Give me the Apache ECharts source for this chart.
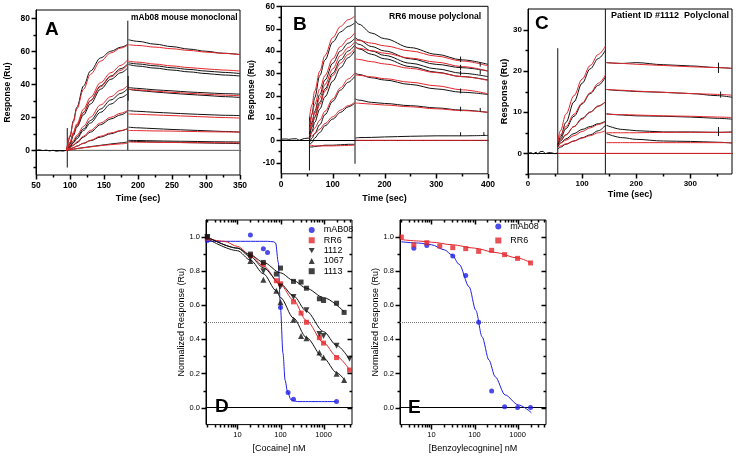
<!DOCTYPE html>
<html><head><meta charset="utf-8">
<script src="https://cdn.jsdelivr.net/npm/echarts@6/dist/echarts.min.js"></script>
<style>html,body{margin:0;padding:0;background:#fff}#c{width:736px;height:457px}</style>
</head><body><div id="c"></div>
<script>
// ---------------- Panel A : mAb08 mouse monoclonal ----------------
const aBaseT = [50,55,60,65,70,75,80,85,90,95];
const aBaseV = [0,0.3,-0.2,0.1,-0.4,0,-0.6,-0.3,-0.5,0];
const aAssocT = [95,100,105,110,120,130,145,160,175,184];
const aBlackAssoc = [
  [0,8,18,26,39,48,56,60,62.5,64],
  [0,4,10,15,23,30,39,45,49.5,52],
  [0,3.5,9,14,21.5,28,37,43,47,49.5],
  [0,2.5,5,8,13,18,25,30.5,34.5,37],
  [0,2,4.5,7,12,16.5,23,28,32,34],
  [0,1.5,3,4.5,8,11,15.5,19,21.5,23.5],
  [0,0.8,1.5,2.5,4.2,5.8,8,10,11.8,13],
  [0,0.3,0.6,1,1.6,2.2,3,3.8,4.5,5]
];
const aRedAssoc = [
  [0,9,17,25,37,46,54,59,62,63.5],
  [0,5,11,16,25,32,41,47,51.5,54.5],
  [0,4.5,10,15,23,30,38.5,44.5,48.5,51.5],
  [0,3,6,9,14.5,20,27.5,32.5,36.5,39],
  [0,1.5,3.2,5,8.5,12,16.5,20,22.5,24],
  [0,0.8,1.6,2.5,4.3,6,8.5,10.5,12,13],
  [0,0.3,0.6,1,1.5,2,2.8,3.4,3.9,4.2]
];
const aDissT = [186,200,225,250,275,300,325,350];
const aBlackDiss = [
  [67,66,64.3,62.8,61.3,60,58.8,58],
  [53,52.3,51.2,50,49,48,47.2,46.5],
  [52,51,49.8,48.6,47.5,46.5,45.6,45],
  [38,37.5,36.6,36,35.3,34.8,34.3,34],
  [37,36.2,35.3,34.5,33.8,33.2,32.5,32],
  [24,23.6,23,22.5,22,21.6,21.2,21],
  [14,13.6,13.1,12.6,12.2,11.8,11.4,11],
  [6,5.9,5.7,5.5,5.4,5.2,5.1,5],
  [5.5,5.3,5,4.8,4.6,4.4,4.2,4]
];
const aRedDiss = [
  [64,63.5,62.5,61.5,60.5,59.5,58.7,58],
  [54,53.4,52.2,51.1,50.1,49.3,48.6,48],
  [37,36.6,35.8,35.1,34.5,33.9,33.4,33],
  [22,21.8,21.4,21,20.6,20.2,19.8,19.5],
  [12,11.9,11.7,11.6,11.4,11.2,11.1,11],
  [5,4.9,4.8,4.7,4.6,4.6,4.5,4.5]
];
const aZero = [[95,0],[350,0]];
const aSpikes = [[[96,-10.5],[96,13.5]], [[185,0],[185,78.5]], [[185.5,30],[185.5,45]]];

// ---------------- Panel B : RR6 mouse polyclonal ----------------
const bBaseT = [0,10,15,18,20,30,35,38,45,54];
const bBaseV = [0.5,0.6,0.4,1.2,0.6,0.7,0,0.6,0.8,1];
const bAssocT = [55,60,65,75,85,100,115,130,142];
const bBlackAssoc = [
  [3,12,19,29,36,44,48.5,51,52.5],
  [2,8,13,20.5,27,34.5,40,43.5,45.5],
  [1,6,10.5,17,23,30,36,40,42.5],
  [0,4,8,14,19.5,26.5,32.5,37,40],
  [-1,1,3,7,11.5,17.5,22.5,26,28.5],
  [-2,-1,1,3.5,6.5,9.5,12.5,15,16.5],
  [-3,-3,-2.8,-2.5,-2.2,-2.2,-2,-1.8,-1.8]
];
const bRedAssoc = [
  [10,16,22,31,38,46,51,54,55.5],
  [7,11.5,16,23,29,36.5,42,45.5,48],
  [5,8.5,12,19,25,32,38,41.5,44],
  [4,7,10,16,22,29,34.5,38.5,41],
  [2,3.5,5.5,9,13,18.5,23.5,27.5,30],
  [1,2,3,5,7.5,10.5,13.5,15.5,17],
  [-2,-2.3,-2.5,-2.5,-2.5,-2.5,-2.4,-2.3,-2.2]
];
const bDissT = [144,150,175,200,250,300,350,400];
const bBlackDiss = [
  [53.5,52,48,45.5,41.5,38.5,36,34],
  [46,45,42,40,36.5,34,32.5,31],
  [44,43,40,38,34.5,32,30,28.5],
  [42,41,38.5,36.5,33,30.5,28.5,27],
  [30,29.5,28,27,25,23,21.5,20.5],
  [18.5,18,17,16.5,15.5,14.5,13.5,12.5],
  [1,1.2,1.3,1.5,1.8,2,2,2.2]
];
const bRedDiss = [
  [45,44.7,43.5,42.3,40,37.7,35.5,33.3],
  [41.5,41.2,40.1,39,36.8,35,33,31],
  [36.5,36.2,35.2,34.2,32.2,30.3,28.5,26.8],
  [29.3,29.1,28.4,27.6,26,24.4,22.6,20.8],
  [16.7,16.6,16.2,15.8,15,14.1,13.3,12.5],
  [0,0,0,0,0,0,0,0]
];
const bSpikes = [[[55,-13.5],[55,10.5]], [[143,-10.5],[143,60]]];
const bGlitches = [[[347,35],[347,37.5]], [[347,31.5],[347,33.8]], [[347,29],[347,31.2]], [[347,21],[347,23.2]],
  [[347,13],[347,15]], [[347,1.9],[347,3.6]], [[385,33],[385,35]], [[385,29.5],[385,31.5]], [[385,12.8],[385,14.5]], [[392,2],[392,3.6]]];

// ---------------- Panel C : Patient ID #1112 ----------------
const cBaseT = [0,5,10,15,18,22,25,28,32,38,45,50,54];
const cBaseV = [0,0.2,-0.1,0.3,-0.2,0.4,0,0.5,-0.1,0.2,0.1,-0.1,0.1];
const cAssocT = [55,60,70,85,100,115,130,143];
const cBlackAssoc = [
  [2,4,7.5,12.5,17,20.5,23,25],
  [2,3.5,6,9,12,14.5,16.5,18.5],
  [2,3,4.5,6.5,8.5,10,11.5,12.5],
  [1.5,2.5,3.5,4.8,5.8,6.5,7.2,7.8],
  [1,1.5,2.2,3,3.8,4.5,5.5,6.8]
];
const cRedAssoc = [
  [3,5.5,9.5,14,18,21.3,24,26],
  [3,4.5,6.5,9.5,12.2,14.7,17,19],
  [2.5,3.3,4.5,6.5,8.3,10,11.4,12.5],
  [2,2.5,3.2,4.3,5.3,6.2,7,7.7],
  [1.5,1.8,2.3,3,3.7,4.3,5,5.5]
];
const cDissT = [145,175,200,250,300,350,377];
const cBlackDiss = [
  [22,21.8,22,21.5,21.2,20.8,20.6],
  [15.5,15.2,15,14.8,14.5,14,13.6],
  [9.6,9.3,9.1,9,8.8,8.5,8.3],
  [6.8,5.8,5.5,5.2,5.2,5.1,5.2],
  [4.8,3.8,3.4,3,2.9,2.7,2.5]
];
const cRedDiss = [
  [22,21.8,21.6,21.3,21,20.8,20.6],
  [15.5,15.3,15.1,14.8,14.5,14.3,14.1],
  [9.5,9.4,9.3,9.1,9,8.8,8.7],
  [5,5,5,5.1,5.1,5.1,5.1],
  [2.6,2.6,2.6,2.6,2.6,2.6,2.6]
];
const cRedZero = [[55,0],[377,0]];
const cSpikes = [[[55,-5],[55,25.5]], [[143,-5],[143,35]]];
const cGlitches = [[[352,19.5],[352,22]], [[352,4.2],[352,6.4]], [[356,13.5],[356,15]]];

// ---------------- Panel D : cocaine ----------------
const dMab08X = [2,20,40,50,100,150,200,2000];
const dMab08Y = [0.98,1.012,0.932,0.91,0.587,0.088,0.049,0.035];
const dRR6X = [2,20,40,80,100,200,300,400,800,1000,2000,4000];
const dRR6Y = [0.994,0.893,0.84,0.744,0.726,0.62,0.554,0.50,0.41,0.378,0.293,0.22];
const d1112X = [2,20,40,100,200,400,800,1000,2000,4000];
const d1112Y = [1.0,0.875,0.80,0.71,0.648,0.571,0.432,0.42,0.362,0.286];
const d1067X = [20,40,80,100,200,300,400,800,1000,2000,3000];
const d1067Y = [0.86,0.75,0.685,0.617,0.515,0.42,0.407,0.323,0.293,0.198,0.162];
const d1113X = [2,20,40,80,100,200,300,400,800,1000,2000,3000];
const d1113Y = [1.0,0.90,0.851,0.783,0.818,0.74,0.736,0.70,0.638,0.628,0.612,0.558];
const dFitMab08X = [2,50,70,77,89,100,114,128,145,175,250,2000];
const dFitMab08Y = [0.975,0.975,0.972,0.965,0.85,0.58,0.32,0.16,0.094,0.045,0.035,0.035];
const dFitRR6X = [2,5,10,20,40,100,200,400,1000,2000,4000];
const dFitRR6Y = [0.99,0.975,0.945,0.895,0.83,0.72,0.63,0.51,0.38,0.30,0.222];
const dFit1112X = [2,10,20,40,100,200,400,1000,2000,4000];
const dFit1112Y = [1.0,0.935,0.885,0.82,0.725,0.655,0.565,0.445,0.365,0.283];
const dFit1067X = [2,10,20,40,80,100,200,400,1000,2000,3000];
const dFit1067Y = [0.99,0.92,0.865,0.785,0.685,0.645,0.525,0.41,0.29,0.205,0.165];
const dFit1113X = [2,10,20,40,100,200,400,1000,3000];
const dFit1113Y = [1.0,0.935,0.895,0.852,0.79,0.745,0.70,0.645,0.562];

// ---------------- Panel E : benzoylecgonine ----------------
const eMab08X = [3.9,7.8,31.25,62.5,125,250,500,1000,2000];
const eMab08Y = [0.935,0.95,0.889,0.774,0.501,0.097,0.005,0.0,0.0];
const eRR6X = [2,3.9,7.8,15.6,31.25,62.5,125,250,500,1000,2000];
const eRR6Y = [1.0,0.954,0.967,0.947,0.938,0.932,0.916,0.922,0.897,0.875,0.848];
const eFitMab08X = [2,5,10,20,30,44,75,107,150,216,303,513,1035,2090];
const eFitMab08Y = [0.972,0.965,0.955,0.925,0.895,0.84,0.708,0.571,0.415,0.279,0.18,0.074,0.016,-0.03];
const eFitRR6X = [2,5,10,30,100,300,1000,2000];
const eFitRR6Y = [0.985,0.977,0.97,0.955,0.935,0.91,0.877,0.85];

// ---------------- tick values ----------------
const aXMaj=[50,100,150,200,250,300,350], aXMin=[75,125,175,225,275,325], aYMaj=[0,20,40,60,80], aYMin=[-10,10,30,50,70];
const bXMaj=[0,100,200,300,400], bXMin=[50,150,250,350], bYMaj=[-10,0,10,20,30,40,50,60], bYMin=[-5,5,15,25,35,45,55];
const cXMaj=[0,100,200,300], cXMin=[50,150,250,350], cYMaj=[0,10,20,30], cYMin=[-5,5,15,25];
const logMaj=[10,100,1000];
const logMin=[2,3,4,5,6,7,8,9,20,30,40,50,60,70,80,90,200,300,400,500,600,700,800,900,2000,3000,4000];
const nYMaj=[0,0.2,0.4,0.6,0.8,1.0], nYMin=[0.1,0.3,0.5,0.7,0.9];

// ---------------- styling / helpers ----------------
const FONT = '"Liberation Sans", Arial, Helvetica, sans-serif';
const RED = '#e3262b', BLUE = '#1f1fe6', BLK = '#111';
const TRI_DOWN = 'path://M0,0L10,0L5,9Z';
const series = [];
function zip(xs, ys){ return xs.map((x,i)=>[x, ys[i]]); }
function line(gi, data, color, w, smooth, z){
  series.push({type:'line', xAxisIndex:gi, yAxisIndex:gi, data, symbol:'none', showSymbol:false,
    smooth: smooth||0, smoothMonotone:'x', lineStyle:{color, width:w||1}, itemStyle:{color},
    silent:true, animation:false, z: z||2});
}
function scatter(gi, name, data, color, symbol, size){
  series.push({type:'scatter', name, xAxisIndex:gi, yAxisIndex:gi, data, symbol, symbolSize:size||5,
    itemStyle:{color}, silent:true, animation:false, z:5});
}

// Panel A series
line(0, zip(aBaseT, aBaseV), BLK, 1);
line(0, aZero, '#9a9a9a', 1);
aBlackAssoc.forEach(v=>line(0, zip(aAssocT, v), BLK, 1, 0.35));
aBlackDiss.forEach(v=>line(0, zip(aDissT, v), BLK, 1, 0.35));
aRedAssoc.forEach(v=>line(0, zip(aAssocT, v), RED, 1, 0.35, 3));
aRedDiss.forEach(v=>line(0, zip(aDissT, v), RED, 1, 0.35, 3));
aSpikes.forEach(s=>line(0, s, BLK, 1));
// Panel B series
line(1, zip(bBaseT, bBaseV), BLK, 1);
bBlackAssoc.forEach(v=>line(1, zip(bAssocT, v), BLK, 1, 0.35));
bBlackDiss.forEach(v=>line(1, zip(bDissT, v), BLK, 1, 0.35));
bRedAssoc.forEach(v=>line(1, zip(bAssocT, v), RED, 1, 0.35, 3));
bRedDiss.forEach(v=>line(1, zip(bDissT, v), RED, 1, 0.35, 3));
bSpikes.forEach(s=>line(1, s, BLK, 1));
bGlitches.forEach(s=>line(1, s, BLK, 1, 0, 4));
// Panel C series
line(2, zip(cBaseT, cBaseV), BLK, 1);
cBlackAssoc.forEach(v=>line(2, zip(cAssocT, v), BLK, 1, 0.35));
cBlackDiss.forEach(v=>line(2, zip(cDissT, v), BLK, 1, 0.35));
cRedAssoc.forEach(v=>line(2, zip(cAssocT, v), RED, 1, 0.35, 3));
cRedDiss.forEach(v=>line(2, zip(cDissT, v), RED, 1, 0.35, 3));
line(2, cRedZero, RED, 1, 0, 3);
cSpikes.forEach(s=>line(2, s, BLK, 1));
cGlitches.forEach(s=>line(2, s, BLK, 1, 0, 4));
// Panel D series
const half = {silent:true, symbol:['none','none'], label:{show:false}, lineStyle:{type:'dotted', color:'#777', width:1}, data:[{yAxis:0.5}]};
line(3, zip(dFitMab08X, dFitMab08Y), BLUE, 1, 0.3);
series[series.length-1].markLine = half;
line(3, zip(dFitRR6X, dFitRR6Y), RED, 1, 0.3);
line(3, zip(dFit1112X, dFit1112Y), BLK, 1, 0.3);
line(3, zip(dFit1067X, dFit1067Y), BLK, 1, 0.3);
line(3, zip(dFit1113X, dFit1113Y), BLK, 1, 0.3);
scatter(3, 'mAB08', zip(dMab08X, dMab08Y), BLUE, 'circle', 5);
scatter(3, 'RR6', zip(dRR6X, dRR6Y), RED, 'rect', 5);
scatter(3, '1112', zip(d1112X, d1112Y), BLK, TRI_DOWN, 6);
scatter(3, '1067', zip(d1067X, d1067Y), BLK, 'triangle', 6);
scatter(3, '1113', zip(d1113X, d1113Y), BLK, 'rect', 5);
// Panel E series
line(4, zip(eFitMab08X, eFitMab08Y), BLUE, 1, 0.3);
series[series.length-1].markLine = half;
line(4, zip(eFitRR6X, eFitRR6Y), RED, 1, 0.3);
scatter(4, 'mAb08', zip(eMab08X, eMab08Y), BLUE, 'circle', 5);
scatter(4, 'RR6', zip(eRR6X, eRR6Y), RED, 'rect', 5);

// ---------------- axes ----------------
const grids = [
  {left:36, top:10, width:204, height:165},
  {left:281, top:6.3, width:207, height:167.5},
  {left:528, top:9, width:204, height:165},
  {left:206, top:220, width:146, height:204.6},
  {left:400, top:220, width:146, height:204.6}
].map(g=>Object.assign({show:true, borderColor:'#000', borderWidth:1, containLabel:false}, g));

function sgAxisLabel(fs, margin, fmt){
  return {color:'#000', fontSize:fs, fontWeight:'bold', fontFamily:FONT, margin, formatter: fmt};
}
const nameBold = fs => ({color:'#000', fontSize:fs, fontWeight:'bold', fontFamily:FONT});
const nameReg = fs => ({color:'#000', fontSize:fs, fontFamily:FONT});
const common = {axisLine:{show:true, lineStyle:{color:'#000', width:1}}, axisTick:{show:false}, minorTick:{show:false}, splitLine:{show:false}, nameLocation:'middle'};
const normFmt = v => { const k=Math.round(v*10); return (k>=0 && k<=10 && k%2===0) ? (k/10).toFixed(1) : ''; };

const xAxis = [
  Object.assign({}, common, {gridIndex:0, type:'value', min:50, max:350, interval:50, axisLabel:sgAxisLabel(8.5,6, v=>String(v)), name:'Time (sec)', nameGap:19, nameTextStyle:nameBold(9)}),
  Object.assign({}, common, {gridIndex:1, type:'value', min:0, max:400, interval:100, axisLabel:sgAxisLabel(8.5,6, v=>String(v)), name:'Time (sec)', nameGap:20, nameTextStyle:nameBold(9)}),
  Object.assign({}, common, {gridIndex:2, type:'value', min:0, max:377, interval:100, axisLabel:sgAxisLabel(8,6, v=>(v%100===0?String(v):'')), name:'Time (sec)', nameGap:16, nameTextStyle:nameBold(9)}),
  Object.assign({}, common, {gridIndex:3, type:'log', logBase:10, min:1.862, max:4571, axisLabel:{show:false}, name:'[Cocaine] nM', nameGap:19, nameTextStyle:nameReg(9)}),
  Object.assign({}, common, {gridIndex:4, type:'log', logBase:10, min:1.862, max:4571, axisLabel:{show:false}, name:'[Benzoylecognine] nM', nameGap:19, nameTextStyle:nameReg(9)})
];
const yAxis = [
  Object.assign({}, common, {gridIndex:0, type:'value', min:-15, max:85, interval:5, axisLabel:sgAxisLabel(8.5,6, v=>(v%20===0?String(v):'')), name:'Response (Ru)', nameGap:24, nameTextStyle:nameBold(8.5)}),
  Object.assign({}, common, {gridIndex:1, type:'value', min:-15, max:60, interval:5, axisLabel:sgAxisLabel(8.5,6, v=>(v%10===0?String(v):'')), name:'Response (Ru)', nameGap:25, nameTextStyle:nameBold(8.5)}),
  Object.assign({}, common, {gridIndex:2, type:'value', min:-5, max:35, interval:5, axisLabel:sgAxisLabel(8,6, v=>(v%10===0?String(v):'')), name:'Response (Ru)', nameGap:18, nameTextStyle:nameBold(9.3)}),
  Object.assign({}, common, {gridIndex:3, type:'value', min:-0.1, max:1.1, interval:0.1, axisLabel:{color:'#000', fontSize:7.5, fontFamily:FONT, margin:6, formatter:normFmt}, name:'Normalized Response (Ru)', nameGap:19, nameTextStyle:nameReg(9)}),
  Object.assign({}, common, {gridIndex:4, type:'value', min:-0.1, max:1.1, interval:0.1, axisLabel:{color:'#000', fontSize:7.5, fontFamily:FONT, margin:6, formatter:normFmt}, name:'Normalized Response (Ru)', nameGap:18, nameTextStyle:nameReg(9)})
];

const legendBase = {orient:'vertical', itemWidth:6, itemHeight:6, selectedMode:false, padding:0,
  textStyle:{color:'#000', fontSize:9, fontFamily:FONT, padding:[0,0,0,4]}};
const legend = [
  Object.assign({}, legendBase, {left:308.7, top:225.5, itemGap:1.3,
    data:[{name:'mAB08', icon:'circle'}, {name:'RR6', icon:'rect'}, {name:'1112', icon:TRI_DOWN}, {name:'1067', icon:'triangle'}, {name:'1113', icon:'rect'}]}),
  Object.assign({}, legendBase, {left:495.3, top:222, itemGap:5,
    data:[{name:'mAb08', icon:'circle'}, {name:'RR6', icon:'rect'}]})
];

const letter = (t, l, tp) => ({type:'text', left:l, top:tp, silent:true, style:{text:t, fill:'#000', font:'bold 19px '+FONT}});
const title = (t, l, tp, fs) => ({type:'text', left:l, top:tp, silent:true, style:{text:t, fill:'#000', font:'bold '+fs+'px '+FONT}});
const graphic = [
  letter('A', 45, 20), letter('B', 293, 15), letter('C', 535, 14), letter('D', 215, 397), letter('E', 408, 398),
  title('mAb08 mouse monoclonal', 131, 14, 8.4),
  title('RR6 mouse polyclonal', 389, 12, 8.6),
  title('Patient ID #1112  Polyclonal', 611, 11.5, 9)
];

const chart = echarts.init(document.getElementById('c'), null, {renderer:'canvas'});
chart.setOption({animation:false, backgroundColor:'#fff', grid:grids, xAxis, yAxis, legend, graphic, series});

// ---------------- ticks placed through the axes' own scales ----------------
const axisExt = [[50,350,-15,85],[0,400,-15,60],[0,377,-5,35],[1.862,4571,-0.1,1.1],[1.862,4571,-0.1,1.1]];
const tickEls = [];
function px(gi, x, y){ return chart.convertToPixel({xAxisIndex:gi, yAxisIndex:gi}, [x, y]); }
function addTicks(gi, xMaj, xMin, yMaj, yMin, mirror, labels){
  const e = axisExt[gi];
  const bl = px(gi, e[0], e[2]), tr = px(gi, e[1], e[3]);
  const left = Math.round(bl[0]), bottom = Math.round(bl[1]), right = Math.round(tr[0]), top = Math.round(tr[1]);
  const rect = (x,y,w,h) => tickEls.push({type:'rect', silent:true, z:50, shape:{x, y, width:w, height:h}, style:{fill:'#000'}});
  const xt = (vals, len) => vals.forEach(v=>{ const x=Math.round(px(gi, v, e[2])[0]); rect(x-0.25, bottom, 1.5, len); if (mirror) rect(x-0.25, top, 1.5, len); });
  const yt = (vals, len) => vals.forEach(v=>{ const y=Math.round(px(gi, e[0], v)[1]); rect(left-len, y-0.25, len, 1.5); if (mirror) rect(right-len, y-0.25, len, 1.5); });
  xt(xMaj, 4.5); xt(xMin, 2.5); yt(yMaj, 4.5); yt(yMin, 2.5);
  if (labels) xMaj.forEach(v=>{ const x=px(gi, v, e[2])[0];
    tickEls.push({type:'text', silent:true, z:50, x:x, y:bottom+6, style:{text:String(v), fill:'#000', font:'7.5px '+FONT, align:'center', verticalAlign:'top', textAlign:'center', textVerticalAlign:'top'}}); });
}
addTicks(0, aXMaj, aXMin, aYMaj, aYMin, false, false);
addTicks(1, bXMaj, bXMin, bYMaj, bYMin, false, false);
addTicks(2, cXMaj, cXMin, cYMaj, cYMin, false, false);
addTicks(3, logMaj, logMin, nYMaj, nYMin, true, true);
addTicks(4, logMaj, logMin, nYMaj, nYMin, true, true);
chart.setOption({graphic: graphic.concat(tickEls)});
</script></body></html>
